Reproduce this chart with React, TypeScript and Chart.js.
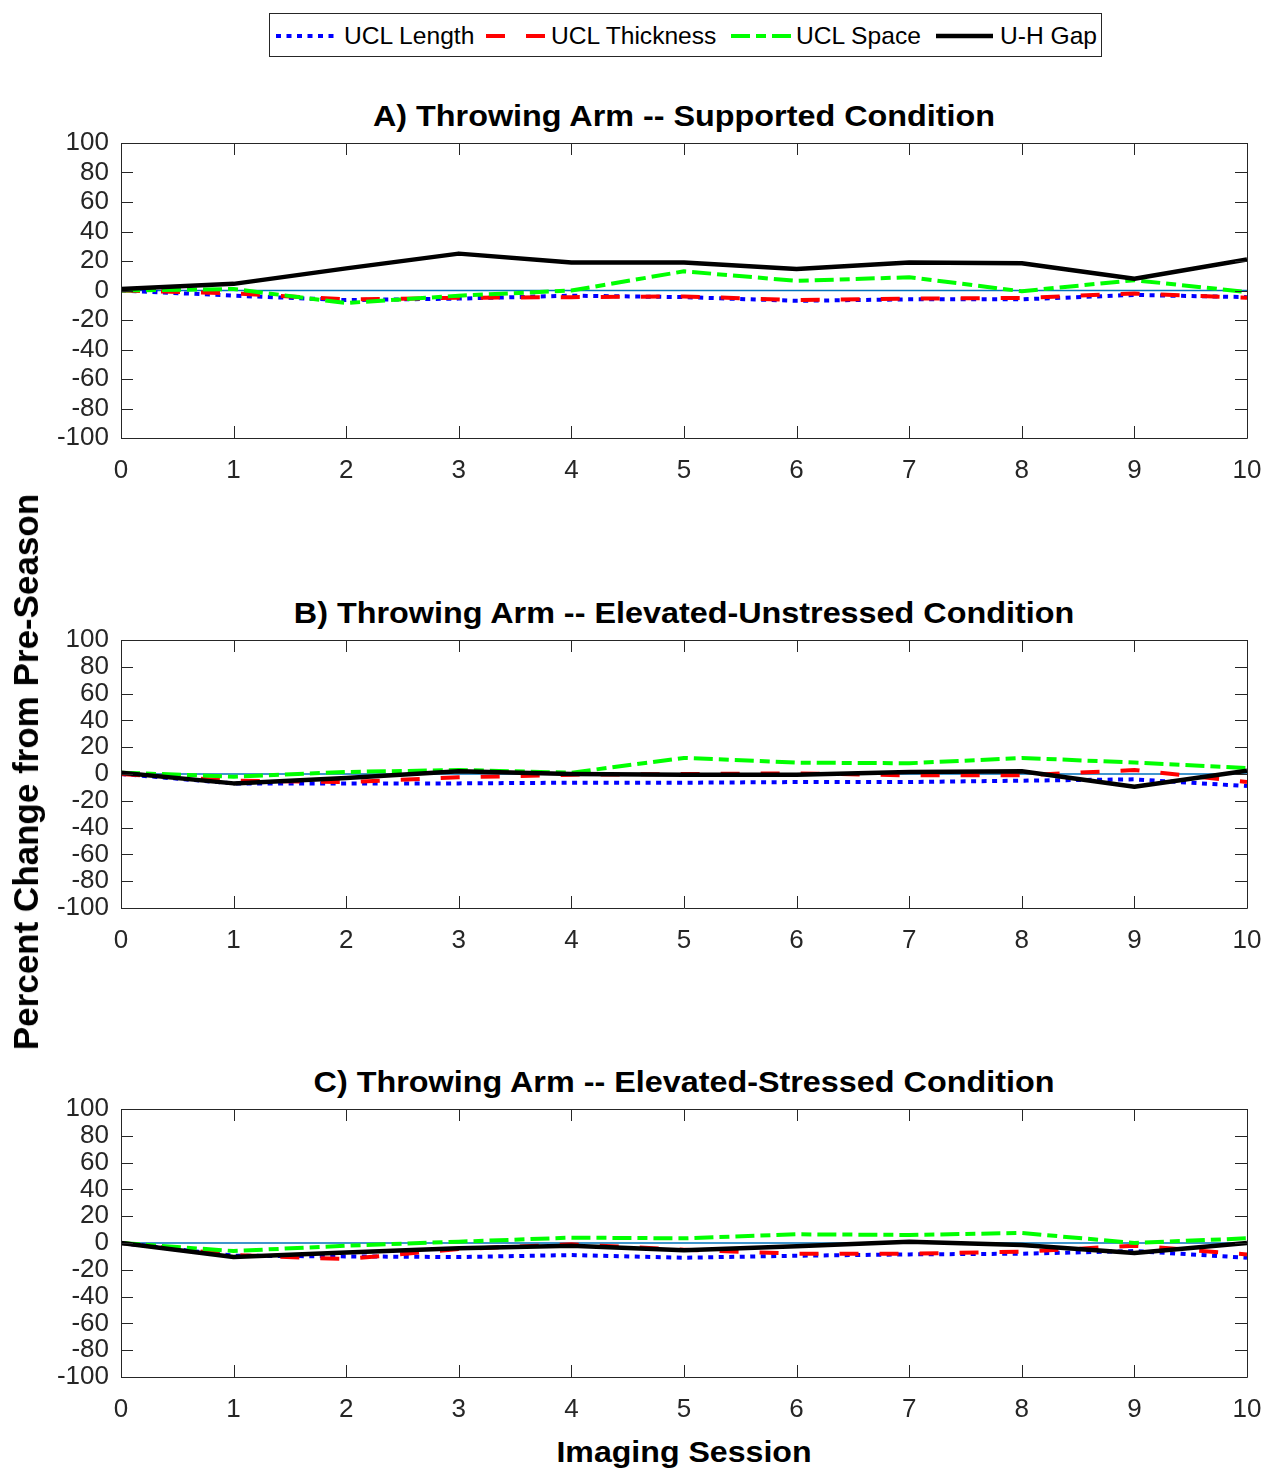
import React, { useEffect, useRef } from 'react';
import { Chart, registerables } from 'chart.js';

Chart.register(...registerables);

// ---------------- data ----------------
const SESSIONS = [0, 1, 2, 3, 4, 5, 6, 7, 8, 9, 10];
const SERIES_NAMES = ['UCL Length', 'UCL Thickness', 'UCL Space', 'U-H Gap'];
const PANEL_TITLES = [
  'A) Throwing Arm -- Supported Condition',
  'B) Throwing Arm -- Elevated-Unstressed Condition',
  'C) Throwing Arm -- Elevated-Stressed Condition',
];
const X_TITLE = 'Imaging Session';
const Y_TITLE = 'Percent Change from Pre-Season';
const Y_TICK_MIN = -100;
const Y_TICK_MAX = 100;
const Y_TICK_STEP = 20;

const A_UCL_LENGTH = [0, -3.5, -6.5, -5.5, -3.5, -4.5, -7, -6, -6, -3, -4.5];
const A_UCL_THICKNESS = [0, -2, -6, -5, -4.5, -4, -6.5, -5.5, -5, -2, -5];
const A_UCL_SPACE = [0, 1, -8.5, -3.5, 0, 13, 6.5, 9, -0.5, 7, -1];
const A_UH_GAP = [1, 4.5, 15, 25, 19, 19, 14.5, 19, 18.5, 8, 21];

const B_UCL_LENGTH = [0, -7, -7, -7, -6.5, -6.5, -6, -6, -5, -4, -9];
const B_UCL_THICKNESS = [0, -5, -6, -2.5, -0.5, 0, 0.5, -1, -1, 3, -6];
const B_UCL_SPACE = [1, -2, 1.5, 3, 1, 12, 8.5, 8, 12, 8.5, 4.5];
const B_UH_GAP = [1, -7, -3, 2, 0, -0.5, -0.5, 1.5, 2, -9.5, 2.5];

const C_UCL_LENGTH = [0, -9.5, -10, -10.5, -9, -11, -9.5, -8.5, -8, -6, -11];
const C_UCL_THICKNESS = [0, -9, -12, -4.5, -1, -5, -8, -8, -6.5, -2, -8.5];
const C_UCL_SPACE = [0, -6, -2, 1, 4, 3.5, 6.5, 6, 7.5, 0, 3.5];
const C_UH_GAP = [0, -10.5, -7, -4, -2, -5.5, -2.5, 1, -1.5, -7.5, 0];

// ---------------- styles ----------------
const FONT = "'Liberation Sans', Arial, Helvetica, sans-serif";
const AXIS_COLOR = '#262626';
const SERIES_STYLES = [
  { color: '#0000FF', width: 4, dash: [5, 5.5], order: 3 },
  { color: '#FF0000', width: 4, dash: [19, 21], order: 2 },
  { color: '#00FF00', width: 4, dash: [19, 6, 10, 6], order: 1 },
  { color: '#000000', width: 4.5, dash: [] as number[], order: 0 },
];

const PLOT_LEFT = 121;
const PLOT_RIGHT = 1247;
const PAGE_W = 1265;
const PAD_TOP = 20;
const X_AXIS_H = 50;

const framePlugin = {
  id: 'matlabFrame',
  afterDatasetsDraw(chart: any) {
    const { ctx, chartArea } = chart;
    const { left, right, top, bottom } = chartArea;
    const xs = chart.scales.x;
    const ys = chart.scales.y;
    const L = 12;
    ctx.save();
    ctx.strokeStyle = AXIS_COLOR;
    ctx.lineWidth = 1;
    ctx.beginPath();
    ctx.rect(Math.round(left) + 0.5, Math.round(top) + 0.5, Math.round(right - left), Math.round(bottom - top));
    xs.ticks.forEach((t: any) => {
      const px = Math.round(xs.getPixelForValue(t.value)) + 0.5;
      ctx.moveTo(px, top);
      ctx.lineTo(px, top + L);
      ctx.moveTo(px, bottom);
      ctx.lineTo(px, bottom - L);
    });
    ys.ticks.forEach((t: any) => {
      const py = Math.round(ys.getPixelForValue(t.value)) + 0.5;
      ctx.moveTo(left, py);
      ctx.lineTo(left + L, py);
      ctx.moveTo(right, py);
      ctx.lineTo(right - L, py);
    });
    ctx.stroke();
    ctx.restore();
  },
};

function PanelChart({ top, height, series }: { top: number; height: number; series: number[][] }) {
  const ref = useRef<HTMLCanvasElement>(null);
  useEffect(() => {
    const canvas = ref.current!;
    const datasets: any[] = [
      {
        label: 'zero',
        data: SESSIONS.map((s) => ({ x: s, y: 0 })),
        borderColor: '#0072BD',
        borderWidth: 1.5,
        pointRadius: 0,
        order: 10,
      },
      ...series.map((vals, i) => ({
        label: SERIES_NAMES[i],
        data: SESSIONS.map((s, j) => ({ x: s, y: vals[j] })),
        borderColor: SERIES_STYLES[i].color,
        borderWidth: SERIES_STYLES[i].width,
        borderDash: SERIES_STYLES[i].dash,
        borderCapStyle: 'butt',
        borderJoinStyle: 'round',
        pointRadius: 0,
        tension: 0,
        order: SERIES_STYLES[i].order,
      })),
    ];
    const tickFont = { family: FONT, size: 26 };
    const chart = new Chart(canvas, {
      type: 'line',
      data: { datasets },
      options: {
        responsive: false,
        animation: false,
        devicePixelRatio: 1,
        layout: { padding: { top: PAD_TOP, right: PAGE_W - PLOT_RIGHT, left: 0, bottom: 0 } },
        plugins: { legend: { display: false }, title: { display: false }, tooltip: { enabled: false } },
        scales: {
          x: {
            type: 'linear',
            min: SESSIONS[0],
            max: SESSIONS[SESSIONS.length - 1],
            ticks: { stepSize: 1, font: tickFont, color: AXIS_COLOR, padding: 17, maxRotation: 0, autoSkip: false },
            grid: { display: false, drawTicks: false },
            border: { display: false },
            afterFit: (s: any) => {
              s.height = X_AXIS_H;
              s.paddingLeft = 0;
              s.paddingRight = 0;
              s.paddingTop = 0;
              s.paddingBottom = 0;
            },
          },
          y: {
            type: 'linear',
            min: Y_TICK_MIN,
            max: Y_TICK_MAX,
            ticks: { stepSize: Y_TICK_STEP, font: tickFont, color: AXIS_COLOR, padding: 12, autoSkip: false },
            grid: { display: false, drawTicks: false },
            border: { display: false },
            afterFit: (s: any) => {
              s.width = PLOT_LEFT;
              s.paddingLeft = 0;
              s.paddingRight = 0;
              s.paddingTop = 0;
              s.paddingBottom = 0;
            },
          },
        },
      } as any,
      plugins: [framePlugin],
    });
    return () => chart.destroy();
  }, []);
  return (
    <canvas
      ref={ref}
      width={PAGE_W}
      height={height}
      style={{ position: 'absolute', left: 0, top, width: PAGE_W, height }}
    />
  );
}

const PANELS = [
  { plotTop: 143, plotBottom: 438, series: [A_UCL_LENGTH, A_UCL_THICKNESS, A_UCL_SPACE, A_UH_GAP] },
  { plotTop: 640, plotBottom: 908, series: [B_UCL_LENGTH, B_UCL_THICKNESS, B_UCL_SPACE, B_UH_GAP] },
  { plotTop: 1109, plotBottom: 1377, series: [C_UCL_LENGTH, C_UCL_THICKNESS, C_UCL_SPACE, C_UH_GAP] },
];

const LEGEND_ITEMS = [
  { sx: 276, sw: 58, tx: 344 },
  { sx: 486, sw: 63, tx: 551 },
  { sx: 731, sw: 60, tx: 796 },
  { sx: 936, sw: 57, tx: 1000 },
];

const titleStyle: React.CSSProperties = {
  position: 'absolute',
  left: PLOT_LEFT,
  width: PLOT_RIGHT - PLOT_LEFT,
  textAlign: 'center',
  fontSize: 30,
  fontWeight: 'bold',
  lineHeight: '36px',
  color: '#000',
  whiteSpace: 'nowrap',
  transformOrigin: 'center center',
};

export default function App() {
  return (
    <div style={{ position: 'absolute', left: 0, top: 0, width: PAGE_W, height: 1471, background: '#fff', fontFamily: FONT }}>
      {/* legend */}
      <div
        style={{
          position: 'absolute',
          left: 269,
          top: 13,
          width: 833,
          height: 44,
          border: `1px solid ${AXIS_COLOR}`,
          boxSizing: 'border-box',
          background: '#fff',
        }}
      />
      {LEGEND_ITEMS.map((it, i) => (
        <React.Fragment key={i}>
          <svg style={{ position: 'absolute', left: it.sx, top: 30 }} width={it.sw} height={12}>
            <line
              x1={0}
              y1={6}
              x2={it.sw}
              y2={6}
              stroke={SERIES_STYLES[i].color}
              strokeWidth={SERIES_STYLES[i].width}
              strokeDasharray={SERIES_STYLES[i].dash.length ? SERIES_STYLES[i].dash.join(' ') : undefined}
            />
          </svg>
          <div
            style={{
              position: 'absolute',
              left: it.tx,
              top: 22,
              fontSize: 24.6,
              lineHeight: '28px',
              color: '#000',
              whiteSpace: 'nowrap',
            }}
          >
            {SERIES_NAMES[i]}
          </div>
        </React.Fragment>
      ))}

      {PANELS.map((p, i) => (
        <React.Fragment key={i}>
          <div style={{ ...titleStyle, top: p.plotTop - 45, transform: 'scaleX(1.078)' }}>{PANEL_TITLES[i]}</div>
          <PanelChart
            top={p.plotTop - PAD_TOP}
            height={p.plotBottom - p.plotTop + PAD_TOP + X_AXIS_H}
            series={p.series}
          />
        </React.Fragment>
      ))}

      {/* x-axis title */}
      <div style={{ ...titleStyle, top: 1434, transform: 'scaleX(1.07)' }}>{X_TITLE}</div>

      {/* y-axis title */}
      <div
        style={{
          position: 'absolute',
          left: 26,
          top: 772,
          transform: 'translate(-50%, -50%) rotate(-90deg)',
          fontSize: 35,
          fontWeight: 'bold',
          lineHeight: '40px',
          color: '#000',
          whiteSpace: 'nowrap',
        }}
      >
        {Y_TITLE}
      </div>
    </div>
  );
}
